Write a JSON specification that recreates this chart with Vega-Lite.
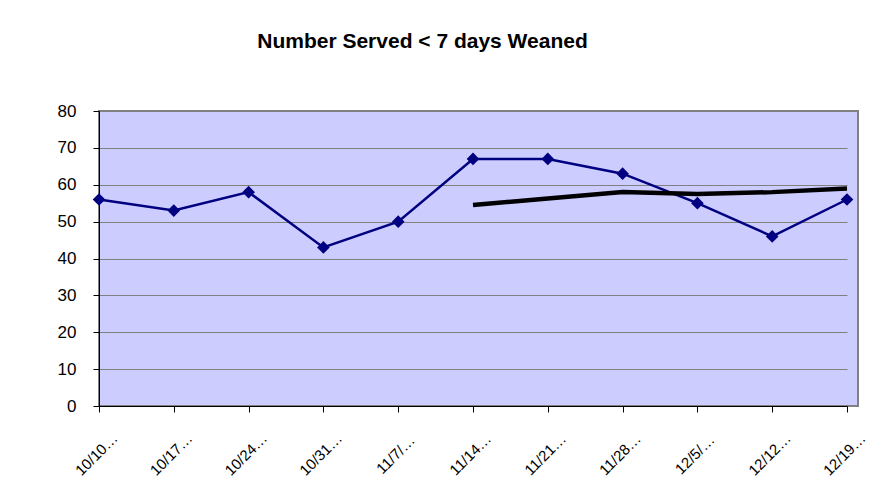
{
  "$schema": "https://vega.github.io/schema/vega-lite/v6.json",
  "width": 759,
  "height": 295,
  "autosize": {"type": "none"},
  "padding": {"left": 99, "top": 111, "right": 21, "bottom": 98},
  "background": "white",
  "title": {
    "text": "Number Served < 7 days Weaned",
    "font": "Liberation Sans",
    "fontSize": 21,
    "fontWeight": "bold",
    "color": "black",
    "anchor": "middle",
    "frame": "group",
    "baseline": "alphabetic",
    "dx": -56,
    "offset": 33
  },
  "data": {
    "values": [
      {"week": "10/10…", "served": 56, "avg": null},
      {"week": "10/17…", "served": 53, "avg": null},
      {"week": "10/24…", "served": 58, "avg": null},
      {"week": "10/31…", "served": 43, "avg": null},
      {"week": "11/7/…", "served": 50, "avg": null},
      {"week": "11/14…", "served": 67, "avg": 54.5},
      {"week": "11/21…", "served": 67, "avg": 56.3},
      {"week": "11/28…", "served": 63, "avg": 58},
      {"week": "12/5/…", "served": 55, "avg": 57.5},
      {"week": "12/12…", "served": 46, "avg": 58},
      {"week": "12/19…", "served": 56, "avg": 59}
    ]
  },
  "encoding": {
    "x": {
      "field": "week",
      "type": "ordinal",
      "sort": null,
      "scale": {"type": "point", "padding": 0, "range": [0, 748]},
      "axis": {
        "title": null,
        "labelAngle": -45,
        "labelAlign": "center",
        "labelBaseline": "middle",
        "labelFont": "Liberation Sans",
        "labelFontSize": 15,
        "labelColor": "black",
        "labelPadding": 42,
        "labelOffset": -3,
        "labelOverlap": false,
        "domainColor": "black",
        "tickColor": "black",
        "tickSize": 6,
        "grid": false
      }
    }
  },
  "layer": [
    {
      "mark": {"type": "line", "color": "#000080", "strokeWidth": 2.5},
      "encoding": {
        "y": {
          "field": "served",
          "type": "quantitative",
          "scale": {"domain": [0, 80]},
          "axis": {
            "title": null,
            "values": [0, 10, 20, 30, 40, 50, 60, 70, 80],
            "labelFont": "Liberation Sans",
            "labelFontSize": 17,
            "labelColor": "black",
            "labelPadding": 17,
            "labelOverlap": false,
            "domainColor": "black",
            "tickColor": "black",
            "tickSize": 6,
            "gridColor": "#808080",
            "gridOpacity": 1
          }
        }
      }
    },
    {
      "mark": {"type": "point", "shape": "diamond", "filled": true, "color": "#000080", "opacity": 1, "size": 160},
      "encoding": {
        "y": {"field": "served", "type": "quantitative", "axis": null}
      }
    },
    {
      "mark": {"type": "line", "color": "black", "strokeWidth": 4.5},
      "encoding": {
        "y": {"field": "avg", "type": "quantitative", "axis": null}
      }
    }
  ],
  "resolve": {"axis": {"y": "independent"}},
  "config": {
    "view": {"fill": "#CCCCFF", "stroke": "#808080", "strokeWidth": 2}
  }
}
